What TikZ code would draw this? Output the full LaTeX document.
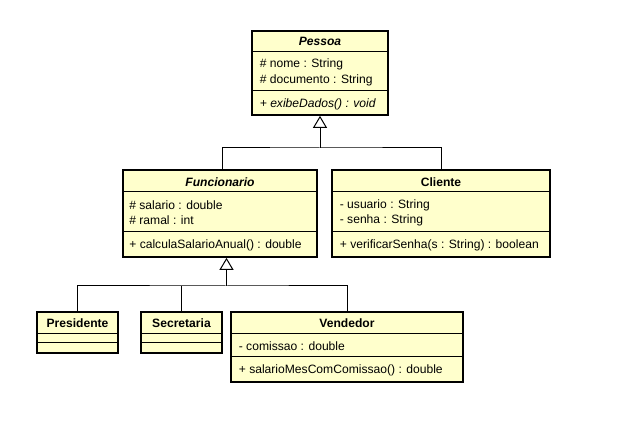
\documentclass[tikz,border=0pt]{standalone}
\usepackage{fontspec}
\setmainfont{Liberation Sans}
\usetikzlibrary{arrows.meta}
\definecolor{classfill}{RGB}{255,255,204}
\tikzset{
  classbox/.style={draw=black, line width=1.7pt, fill=classfill, rectangle, inner sep=0pt},
  sepline/.style={draw=black, line width=1pt},
  conn/.style={draw=black, line width=1pt},
  gen/.style={conn, -{Triangle[length=12pt,width=14pt,fill=white,line width=1pt]}},
  txt/.style={font=\fontsize{12.1}{13}\selectfont, inner sep=0pt, anchor=west, text=black},
  ttl/.style={font=\fontsize{12.1}{13}\selectfont\bfseries, inner sep=0pt, text=black},
}
\begin{document}
\begin{tikzpicture}[x=1pt,y=-1pt]
\useasboundingbox (0,0) rectangle (630,422);

% ---------- Pessoa ----------
\node[classbox, minimum width=136pt, minimum height=84pt] (pessoa) at (320,73) {};
\draw[sepline] (pessoa.west |- 0,52) -- (pessoa.east |- 0,52);
\draw[sepline] (pessoa.west |- 0,91) -- (pessoa.east |- 0,91);
\node[ttl] (pessoaT) at (pessoa.north |- 0,41.5) {\itshape Pessoa};
\node[txt] (pessoaA1) at ([xshift=8.5pt]pessoa.west |- 0,64.5) {\# nome : String};
\node[txt] (pessoaA2) at ([xshift=8.5pt]pessoa.west |- 0,80.5) {\# documento : String};
\node[txt] (pessoaM1) at ([xshift=8.5pt]pessoa.west |- 0,104) {\itshape + exibeDados() : void};

% ---------- Funcionario ----------
\node[classbox, minimum width=194pt, minimum height=87pt] (func) at (220,213.5) {};
\draw[sepline] (func.west |- 0,192) -- (func.east |- 0,192);
\draw[sepline] (func.west |- 0,232) -- (func.east |- 0,232);
\node[ttl] (funcT) at (func.north |- 0,182) {\itshape Funcionario};
\node[txt] (funcA1) at ([xshift=7pt]func.west |- 0,205.5) {\# salario : double};
\node[txt] (funcA2) at ([xshift=7pt]func.west |- 0,220.5) {\# ramal : int};
\node[txt] (funcM1) at ([xshift=7pt]func.west |- 0,245.5) {+ calculaSalarioAnual() : double};

% ---------- Cliente ----------
\node[classbox, minimum width=218pt, minimum height=87pt] (cliente) at (441,213.5) {};
\draw[sepline] (cliente.west |- 0,192) -- (cliente.east |- 0,192);
\draw[sepline] (cliente.west |- 0,232) -- (cliente.east |- 0,232);
\node[ttl] (clienteT) at (cliente.north |- 0,182) {Cliente};
\node[txt] (clienteA1) at ([xshift=8.5pt]cliente.west |- 0,205.5) {- usuario : String};
\node[txt] (clienteA2) at ([xshift=8.5pt]cliente.west |- 0,220.5) {- senha : String};
\node[txt] (clienteM1) at ([xshift=8.5pt]cliente.west |- 0,245.5) {+ verificarSenha(s : String) : boolean};

% ---------- Presidente ----------
\node[classbox, minimum width=81pt, minimum height=41pt] (pres) at (77.5,332.5) {};
\draw[sepline] (pres.west |- 0,333.5) -- (pres.east |- 0,333.5);
\draw[sepline] (pres.west |- 0,343) -- (pres.east |- 0,343);
\node[ttl] (presT) at (pres.north |- 0,323) {Presidente};

% ---------- Secretaria ----------
\node[classbox, minimum width=81pt, minimum height=41pt] (secr) at (181.5,332.5) {};
\draw[sepline] (secr.west |- 0,333.5) -- (secr.east |- 0,333.5);
\draw[sepline] (secr.west |- 0,343) -- (secr.east |- 0,343);
\node[ttl] (secrT) at (secr.north |- 0,323) {Secretaria};

% ---------- Vendedor ----------
\node[classbox, minimum width=232pt, minimum height=70pt] (vend) at (347,347) {};
\draw[sepline] (vend.west |- 0,333.5) -- (vend.east |- 0,333.5);
\draw[sepline] (vend.west |- 0,357) -- (vend.east |- 0,357);
\node[ttl] (vendT) at (vend.north |- 0,323) {Vendedor};
\node[txt] (vendA1) at ([xshift=8.5pt]vend.west |- 0,346) {- comissao : double};
\node[txt] (vendM1) at ([xshift=8.5pt]vend.west |- 0,370.5) {+ salarioMesComComissao() : double};

% ---------- generalizations ----------
\coordinate (bar1) at (320,148);
\draw[conn] ([xshift=2pt]func.north) |- (bar1) -| (cliente.north);
\draw[gen] (bar1) -- (pessoa.south);

\coordinate (bar2) at (226.5,286);
\draw[conn] (pres.north) |- (bar2) -| (vend.north);
\draw[conn] (secr.north) -- (secr.north |- bar2);
\draw[gen] (bar2) -- (func.south -| bar2);
\end{tikzpicture}
\end{document}
